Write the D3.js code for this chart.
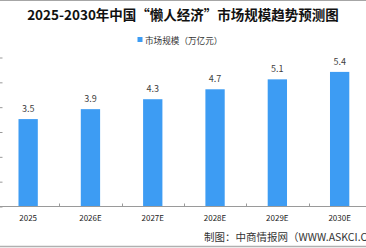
<!DOCTYPE html>
<html><head><meta charset="utf-8">
<script src="https://cdn.jsdelivr.net/npm/d3@7"></script>
<style>
html,body{margin:0;padding:0;background:#fff;}
svg{display:block;}
text{font-family:"Noto Sans CJK SC","Noto Sans",sans-serif;}
</style></head>
<body>
<svg id="c" width="366" height="248"></svg>
<script>
const categories = ["2025","2026E","2027E","2028E","2029E","2030E"];
const values = [3.5,3.9,4.3,4.7,5.1,5.4];
const yTicks = [0,1,2,3,4,5,6];
const seriesName = "市场规模（万亿元）";
const title = "2025-2030年中国“懒人经济”市场规模趋势预测图";
const source = "制图：中商情报网（WWW.ASKCI.COM）";

const svg = d3.select("#c");
const W = 366, H = 248;
svg.append("rect").attr("width",W).attr("height",H).attr("fill","#fff");
// frame lines
svg.append("line").attr("x1",0).attr("x2",W).attr("y1",0.5).attr("y2",0.5).attr("stroke","#a6a6a6").attr("stroke-width",1);
svg.append("line").attr("x1",0).attr("x2",W).attr("y1",246.5).attr("y2",246.5).attr("stroke","#b0b0b0").attr("stroke-width",1.5);

const x = d3.scaleBand().domain(categories).range([-3, 370.8]).paddingInner(0).paddingOuter(0);
const y = d3.scaleLinear().domain([0,6]).range([206,57]);

// y ticks (labels cropped off)
const yAxis = d3.axisLeft(y).tickValues(yTicks).tickSize(3).tickFormat("");
const gy = svg.append("g").attr("transform","translate(2.5,0.5)").call(yAxis);
gy.select(".domain").remove();
gy.selectAll("line").attr("stroke","#9a9a9a");

// x axis
const gx = svg.append("g").attr("transform","translate(0,206.5)")
  .call(d3.axisBottom(x).tickSize(0).tickFormat(""));
gx.select(".domain").remove();
gx.append("line").attr("x1",0).attr("x2",W).attr("stroke","#9a9a9a");
// boundary ticks pointing up
const bounds = categories.slice(1).map(c => x(c));
gx.selectAll(".bt").data(bounds).enter().append("line")
  .attr("x1",d=>Math.round(d)+0.5).attr("x2",d=>Math.round(d)+0.5)
  .attr("y1",0).attr("y2",-3).attr("stroke","#9a9a9a");

const bw = x.bandwidth()*0.31;
svg.selectAll(".bar").data(values).enter().append("rect")
  .attr("x",(d,i)=>x(categories[i])+x.bandwidth()/2-bw/2)
  .attr("width",bw)
  .attr("y",d=>y(d))
  .attr("height",d=>y(0)-y(d))
  .attr("fill","#3d9cf3");

svg.selectAll(".vl").data(values).enter().append("text")
  .attr("x",(d,i)=>x(categories[i])+x.bandwidth()/2)
  .attr("y",d=>y(d)-7)
  .attr("text-anchor","middle")
  .attr("font-size",9).attr("fill","#404040")
  .text(d=>d.toFixed(1));

svg.selectAll(".xl").data(categories).enter().append("text")
  .attr("x",d=>x(d)+x.bandwidth()/2)
  .attr("y",221)
  .attr("text-anchor","middle")
  .attr("font-size",8).attr("fill","#222")
  .text(d=>d);

svg.append("text").attr("x",183).attr("y",20).attr("text-anchor","middle")
  .attr("font-size",13.5).attr("font-weight","bold").attr("fill","#111").text(title);

svg.append("rect").attr("x",137.5).attr("y",37).attr("width",5).attr("height",5).attr("fill","#3d9cf3");
svg.append("text").attr("x",145).attr("y",43.5).attr("font-size",8.6).attr("fill","#333").text(seriesName);

svg.append("text").attr("x",204).attr("y",240.5).attr("font-size",10.5).attr("fill","#333").text(source);
</script>
</body></html>
